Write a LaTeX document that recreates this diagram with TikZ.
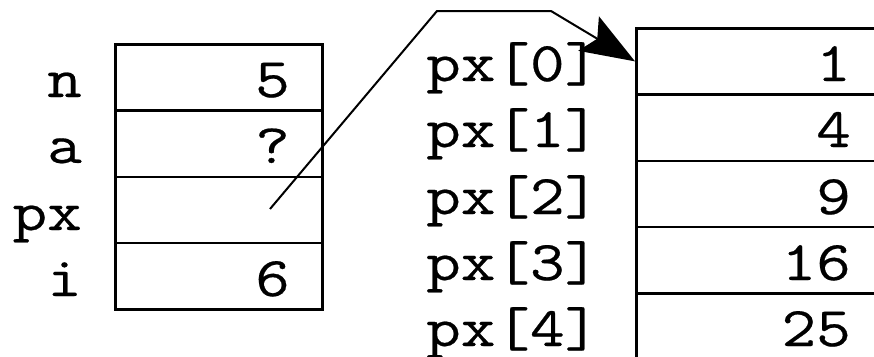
\documentclass[tikz,border=0pt]{standalone}
\usepackage{fontspec}
\setmonofont[FakeStretch=1.2, FakeBold=0.4]{Latin Modern Mono}
\usetikzlibrary{arrows.meta}
\tikzset{
  cell/.style={draw, line width=2.5pt, minimum width=207pt, minimum height=66.25pt,
               inner sep=0pt, anchor=north west},
  wcell/.style={cell, minimum width=270pt},
  txt/.style={inner sep=0pt, font=\fontsize{56}{60}\selectfont\ttfamily},
  lbl/.style={txt, anchor=base east},
  albl/.style={txt, anchor=base west},
  val/.style={txt, anchor=base east},
  ptr/.style={line width=2pt, line join=miter,
              -{Stealth[length=54pt, width=40pt, inset=10pt]}}
}
\begin{document}
\begin{tikzpicture}[x=1pt, y=-1pt]
  \useasboundingbox (0,0) rectangle (874,356);
  \clip (0,0) rectangle (874,356);

  % local variables
  \node[cell] (n)  at (114,43)     {};
  \node[cell] (a)  at (114,109.25) {};
  \node[cell] (px) at (114,175.5)  {};
  \node[cell] (i)  at (114,241.75) {};

  \node[lbl] (ln)  at (82,97)  {n};
  \node[lbl] (la)  at (82,163) {a};
  \node[lbl] (lpx) at (82,230) {px};
  \node[lbl] (li)  at (82,296) {i};

  \node[val] (vn) at (290,97)  {5};
  \node[val] (va) at (290,163) {?};
  \node[val] (vi) at (290,296) {6};

  % the array px points to
  \node[wcell] (c0) at (635,27)    {};
  \node[wcell] (c1) at (635,93.25) {};
  \node[wcell] (c2) at (635,159.5) {};
  \node[wcell] (c3) at (635,225.75){};
  \node[wcell] (c4) at (635,292)   {};

  \node[albl] (l0) at (426,81)  {px[0]};
  \node[albl] (l1) at (426,147) {px[1]};
  \node[albl] (l2) at (426,214) {px[2]};
  \node[albl] (l3) at (426,280) {px[3]};
  \node[albl] (l4) at (426,346) {px[4]};

  \node[val] (v0) at (851,81)  {1};
  \node[val] (v1) at (851,147) {4};
  \node[val] (v2) at (851,214) {9};
  \node[val] (v3) at (851,280) {16};
  \node[val] (v4) at (851,346) {25};

  % pointer from px to px[0]
  \coordinate (pstart) at (270,209);
  \coordinate (bendA) at (437,11);
  \coordinate (bendB) at (551,11);
  \draw[ptr] (pstart) -- (bendA) -- (bendB) -- (c0.west);
\end{tikzpicture}
\end{document}
